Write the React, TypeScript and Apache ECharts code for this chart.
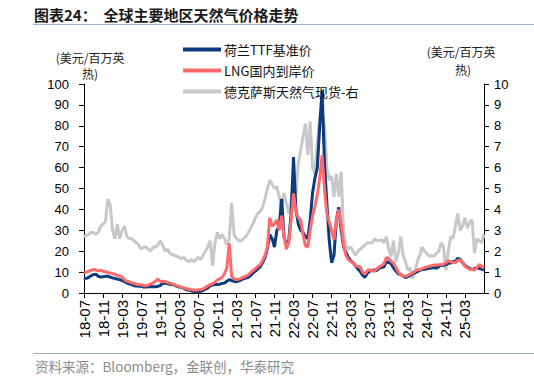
import React, { useEffect, useRef } from "react";
import * as echarts from "echarts";

// Half-monthly categories from 18-07 to 25-07 (tick labels every 4 months)
const categories: string[] = [];
for (let i = 0; i <= 84; i++) {
  const yy = 18 + Math.floor((6 + i) / 12);
  const mm = ((6 + i) % 12) + 1;
  const lab = `${yy}-${String(mm).padStart(2, "0")}`;
  categories.push(lab);
  if (i < 84) categories.push(lab + "/2");
}
const lastTickLabel = "25-03";

const leftTicks = [0, 10, 20, 30, 40, 50, 60, 70, 80, 90, 100];
const rightTicks = [0, 1, 2, 3, 4, 5, 6, 7, 8, 9, 10];

const ttf = [
  7.2, 7.0, 7.5, 8.3, 8.8, 9.0, 8.0, 7.6, 7.8, 8.0, 8.0, 7.6, 7.2, 7.0, 6.6, 6.4, 6.0, 5.4, 4.8, 4.4,
  4.0, 3.5, 3.4, 3.2, 3.2, 2.9, 2.9, 3.0, 3.1, 3.0, 3.0, 3.2, 3.6, 4.5, 4.8, 4.5, 4.2, 4.0, 3.8, 3.2,
  2.9, 2.6, 2.2, 1.6, 1.4, 1.0, 0.8, 0.5, 0.6, 0.8, 1.2, 1.8, 2.4, 3.4, 3.8, 4.2, 4.0, 4.2, 4.6, 4.8,
  5.6, 6.4, 6.0, 5.6, 5.4, 5.8, 6.2, 6.8, 7.2, 7.5, 8.4, 9.6, 10.5, 11.5, 12.6, 14.5, 17, 21, 28, 26,
  22, 30, 32, 45, 27, 23, 25, 38, 65, 40, 33, 30, 29, 27, 26, 35, 48, 55, 60, 80,
  97, 62, 43, 25, 14.5, 18, 35, 41, 30, 22, 19.5, 17, 15.5, 14.5, 13, 11.5, 10.3, 8.5, 7.5, 9.5,
  10.4, 10.8, 11, 10.8, 12, 12.2, 12.5, 15, 14.5, 14, 12, 10.5, 9.2, 8.8, 8.2, 7.4, 7.8, 8.4, 9.2, 9.6,
  10.2, 10.8, 11.2, 11.4, 11.6, 11.8, 12.0, 12.2, 11.9, 12.6, 13.4, 13.2, 13.6, 14.2, 14.4, 15, 15.2, 16.6, 16.2, 14.5,
  13.2, 12.4, 11.8, 11.2, 11.6, 12, 11.8, 11.4, 11.0,
];

const lng = [
  9.6, 10.0, 10.4, 10.9, 11.2, 11.0, 10.6, 10.8, 10.4, 10.2, 9.8, 9.6, 9.2, 9.0, 8.4, 8.0, 7.6, 6.4, 5.6, 5.4,
  4.8, 4.6, 4.2, 4.0, 4.0, 3.6, 3.5, 3.8, 4.4, 4.8, 5.6, 6.7, 5.6, 5.4, 5.6, 5.0, 4.8, 4.4, 4.0, 3.4,
  3.2, 2.8, 2.4, 2.2, 1.8, 1.6, 1.5, 1.3, 1.5, 1.6, 2.0, 2.6, 3.4, 4.0, 4.4, 5.2, 6.2, 6.8, 7.4, 9.2,
  12, 23.8, 8.0, 6.8, 6.4, 6.6, 7.0, 7.6, 8.0, 8.6, 9.8, 10.8, 11.6, 12.8, 13.5, 15.5, 18, 22, 36, 32,
  33, 35, 30, 37, 27, 21, 24, 35, 47.5, 39, 36, 35, 28, 22.5, 22, 30, 37, 41.5, 47, 55,
  66, 50, 38, 34, 30, 25.5, 35, 40, 33, 23, 18, 16, 15, 14.5, 13, 12.8, 12.5, 10, 9, 10.8,
  11.1, 10.6, 10.4, 11.6, 12.5, 13.2, 14, 17, 16.5, 15.2, 14.2, 12.2, 10, 8.8, 8.2, 8.0, 8.4, 9.0, 9.6, 10.4,
  11, 11.2, 11.6, 12.2, 12.5, 12.8, 13.0, 13.4, 13.4, 13.5, 13.5, 13.8, 14.5, 15.3, 15.0, 14.5, 14.6, 15.5, 16.0, 14.8,
  12.8, 12.0, 11.4, 11.2, 11.0, 12.0, 13.6, 12.8, 12.0,
];

const texas = [
  2.7, 2.75, 2.8, 2.9, 2.9, 2.8, 2.9, 3.2, 3.3, 3.4, 4.5, 4.2, 3.0, 2.6, 3.3, 2.6, 3.0, 3.2, 2.7, 2.6,
  2.6, 2.5, 2.4, 2.3, 2.1, 2.2, 2.2, 2.1, 2.0, 2.2, 2.2, 2.3, 2.5, 2.3, 2.0, 2.1, 1.9, 1.85, 1.8, 1.75,
  1.7, 1.65, 1.7, 1.55, 1.5, 1.6, 1.5, 1.6, 1.7, 1.6, 1.8, 2.0, 2.2, 2.5, 1.3, 2.4, 2.9, 2.6, 2.8, 2.6,
  2.3, 2.6, 4.3, 2.8, 2.6, 2.5, 2.5, 2.6, 2.7, 2.9, 3.1, 3.3, 3.6, 3.8, 3.9, 4.1, 4.5, 5.0, 5.4, 5.2,
  5.0, 5.1, 4.6, 3.9, 4.8, 4.3, 3.8, 4.4, 5.6, 4.7, 6.2, 6.8, 7.5, 8.1, 6.6, 8.2, 6.0, 5.7, 7.2, 8.4,
  8.8, 8.0, 6.0, 5.4, 5.6, 4.6, 5.7, 4.6, 5.8, 3.0, 2.3, 2.1, 2.2, 2.0, 1.8, 2.0, 2.1, 2.2, 2.3, 2.4,
  2.4, 2.4, 2.6, 2.5, 2.5, 2.55, 2.4, 2.7, 2.1, 1.75, 2.5, 1.5, 1.9, 2.7, 1.8, 1.5, 1.1, 1.2, 0.7, 1.0,
  1.5, 1.8, 2.2, 2.0, 1.9, 1.75, 1.8, 1.75, 1.9, 2.0, 2.4, 2.2, 1.1, 2.0, 2.7, 2.6, 3.2, 3.8, 3.0, 3.2,
  3.6, 3.1, 3.4, 3.5, 1.9, 2.6, 2.5, 2.4, 2.8,
];

const seriesNames = ["荷兰TTF基准价", "LNG国内到岸价", "德克萨斯天然气现货-右"];
const seriesColors = ["#0B3A7E", "#FF6B6B", "#C8C8C8"];

const CJK = "'Noto Sans CJK SC', sans-serif";
const NUM = "'Liberation Sans', Arial, sans-serif";

export default function App() {
  const ref = useRef<HTMLDivElement>(null);
  useEffect(() => {
    if (!ref.current) return;
    const chart = echarts.init(ref.current, undefined, { renderer: "svg" });
    const axisCommon = {
      axisLine: { show: true, lineStyle: { color: "#000", width: 1 } },
      axisTick: { show: true, inside: false, length: 5, lineStyle: { color: "#000" } },
      splitLine: { show: false },
    };
    const lastIdx = categories.indexOf(lastTickLabel);
    chart.setOption({
      animation: false,
      backgroundColor: "#fff",
      grid: { left: 84, right: 50, top: 84, bottom: 86, containLabel: false },
      legend: {
        orient: "vertical",
        left: 178,
        top: 38,
        itemWidth: 38,
        itemHeight: 4,
        itemGap: 8,
        icon: "rect",
        data: seriesNames,
        textStyle: { fontFamily: CJK, fontSize: 13, color: "#111", padding: [0, 0, 0, -2] },
      },
      xAxis: {
        type: "category",
        data: categories,
        boundaryGap: false,
        ...axisCommon,
        axisTick: {
          show: true,
          inside: false,
          length: 5,
          interval: (i: number) => i % 8 === 0 && i <= lastIdx,
          lineStyle: { color: "#000" },
        },
        axisLabel: {
          interval: (i: number) => i % 8 === 0 && i <= lastIdx,
          rotate: 90,
          margin: 7,
          fontFamily: NUM,
          fontSize: 15,
          color: "#000",
          formatter: (v: string) => v.slice(0, 5),
        },
      },
      yAxis: [
        {
          type: "value",
          min: leftTicks[0],
          max: leftTicks[leftTicks.length - 1],
          interval: 10,
          position: "left",
          ...axisCommon,
          axisLabel: { margin: 15, fontFamily: NUM, fontSize: 13, color: "#000" },
        },
        {
          type: "value",
          min: rightTicks[0],
          max: rightTicks[rightTicks.length - 1],
          interval: 1,
          position: "right",
          ...axisCommon,
          axisLabel: { margin: 10, fontFamily: NUM, fontSize: 13, color: "#000" },
        },
      ],
      series: [
        {
          name: seriesNames[0],
          type: "line",
          data: ttf,
          yAxisIndex: 0,
          showSymbol: false,
          symbol: "none",
          z: 3,
          color: seriesColors[0],
          lineStyle: { width: 3, color: seriesColors[0] },
        },
        {
          name: seriesNames[1],
          type: "line",
          data: lng,
          yAxisIndex: 0,
          showSymbol: false,
          symbol: "none",
          z: 4,
          color: seriesColors[1],
          lineStyle: { width: 3, color: seriesColors[1] },
        },
        {
          name: seriesNames[2],
          type: "line",
          data: texas,
          yAxisIndex: 1,
          showSymbol: false,
          symbol: "none",
          z: 2,
          color: seriesColors[2],
          lineStyle: { width: 3, color: seriesColors[2] },
        },
      ],
      graphic: [
        {
          type: "text",
          x: 34,
          y: 14,
          style: {
            text: "图表24：  全球主要地区天然气价格走势",
            font: `bold 15px ${CJK}`,
            fill: "#1a1a1a",
            verticalAlign: "middle",
          },
        },
        {
          type: "line",
          shape: { x1: 33, y1: 24.5, x2: 534, y2: 24.5 },
          style: { stroke: "#9FB4CC", lineWidth: 1 },
        },
        {
          type: "text",
          x: 90,
          y: 57,
          style: { text: "(美元/百万英", font: `12px ${CJK}`, fill: "#222", align: "center", verticalAlign: "middle" },
        },
        {
          type: "text",
          x: 90,
          y: 73,
          style: { text: "热)", font: `12px ${CJK}`, fill: "#222", align: "center", verticalAlign: "middle" },
        },
        {
          type: "text",
          x: 461,
          y: 51,
          style: { text: "(美元/百万英", font: `12px ${CJK}`, fill: "#222", align: "center", verticalAlign: "middle" },
        },
        {
          type: "text",
          x: 463,
          y: 69,
          style: { text: "热)", font: `12px ${CJK}`, fill: "#222", align: "center", verticalAlign: "middle" },
        },
        {
          type: "line",
          shape: { x1: 33, y1: 353.5, x2: 534, y2: 353.5 },
          style: { stroke: "#9FB4CC", lineWidth: 1 },
        },
        {
          type: "text",
          x: 35,
          y: 366,
          style: {
            text: "资料来源：Bloomberg，金联创，华泰研究",
            font: `13.5px ${CJK}`,
            fill: "#8C8C8C",
            verticalAlign: "middle",
          },
        },
      ],
    });
    return () => chart.dispose();
  }, []);
  return <div ref={ref} style={{ width: 534, height: 379, position: "absolute", left: 0, top: 0 }} />;
}
